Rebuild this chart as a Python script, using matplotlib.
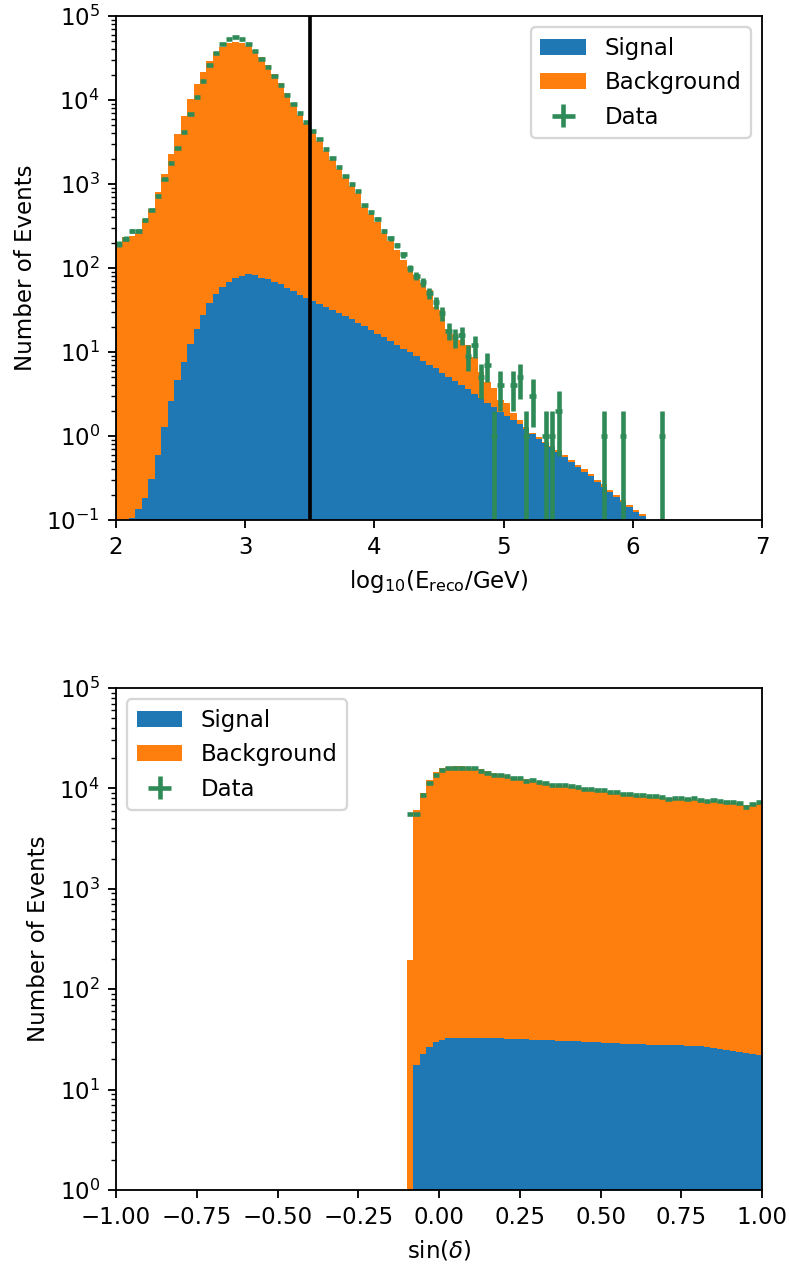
import numpy as np
import matplotlib
matplotlib.use("Agg")
import matplotlib.pyplot as plt

# ---------------- top panel: log10(E_reco/GeV), 100 bins from 2 to 7 ----------------
energy_range = (2.0, 7.0)
n_bins_energy = 100

signal_energy = [
    0.05, 0.05, 0.107, 0.135, 0.184, 0.305, 0.594, 1.29, 2.59, 4.6,
    7.7, 12.3, 19.0, 27.3, 38.0, 49.0, 59.0, 69.0, 76.0, 81.0,
    84.0, 83.0, 77.0, 73.0, 69.0, 64.0, 58.0, 53.0, 48.0, 43.6,
    40.5, 37.5, 34.5, 31.8, 29.2, 26.8, 24.5, 22.3, 20.3, 18.4,
    16.6, 15.0, 13.5, 12.1, 10.8, 10.0, 9.0, 7.9, 7.0, 6.4,
    5.7, 5.1, 4.5, 4.05, 3.6, 3.2, 2.86, 2.5, 2.23, 1.95,
    1.73, 1.54, 1.38, 1.2, 1.05, 0.92, 0.82, 0.73, 0.645, 0.57,
    0.49, 0.43, 0.376, 0.33, 0.283, 0.25, 0.217, 0.19, 0.165, 0.144,
    0.126, 0.112, 0.085, 0.07, 0.055, 0.045, 0.035, 0.028, 0.02, 0.015,
    0.012, 0.009, 0.007, 0.005, 0.004, 0.003, 0.002, 0.002, 0.001, 0.001,
]

background_energy = [
    180, 235, 240, 260, 380, 500, 799, 1319, 2297, 3895,
    6492, 10188, 15481, 21773, 28762, 37451, 42741, 47431, 49424, 47419,
    44416, 39417, 32423, 26227, 20431, 15836, 12142, 9247, 6642, 5236,
    4040, 3183, 2465, 1898, 1491, 1163, 922, 753, 517, 421,
    333, 244, 196, 152, 115, 92, 73, 58, 48, 27.6,
    25.9, 13.9, 11.9, 9.85, 8.5, 5.6, 2.94, 1.9, 1.53, 0.73,
    0.72, 0.32, 0.17, 0.09, 0.05, 0.06, 0.04, 0.04, 0.035, 0.03,
    0.03, 0.025, 0.024, 0.02, 0.017, 0.015, 0.013, 0.01, 0.01, 0.008,
    0.007, 0.006, 0.005, 0.004, 0.003, 0.003, 0.002, 0.002, 0.001, 0.001,
    0.001, 0.001, 0.0, 0.0, 0.0, 0.0, 0.0, 0.0, 0.0, 0.0,
]

data_energy = [
    193, 223, 278, 278, 372, 495, 726, 1150, 1780, 2700,
    4200, 6900, 10870, 17000, 25800, 36000, 47000, 53500, 55500, 53500,
    46000, 38000, 30700, 24800, 19400, 15000, 11500, 8900, 7060, 5520,
    4280, 3400, 2590, 2020, 1610, 1260, 990, 826, 562, 460,
    386, 278, 225, 186, 145, 100, 81, 68, 50, 39,
    29, 18, 15, 16, 9, 12, 5, 7, 1, 4,
    0, 4, 5, 1, 3, 0, 1, 1, 2, 0,
    0, 0, 0, 0, 0, 1, 0, 0, 1, 0,
    0, 0, 0, 0, 1, 0, 0, 0, 0, 0,
    0, 0, 0, 0, 0, 0, 0, 0, 0, 0,
]

energy_cut = 3.5

# ---------------- bottom panel: sin(delta), 100 bins from -1 to 1 ----------------
sindec_range = (-1.0, 1.0)
n_bins_sindec = 100

signal_sindec = [0.0] * 46 + [
    17.6, 22.6, 26.4, 29.6, 31.2, 32.4, 32.8, 33.0, 33.0, 32.9,
    32.8, 32.6, 32.5, 32.3, 32.2, 32.0, 31.9, 31.7, 31.5, 31.3,
    31.2, 31.0, 30.8, 30.6, 30.4, 30.2, 30.0, 29.7, 29.5, 29.3,
    29.1, 28.9, 28.7, 28.5, 28.3, 28.2, 28.0, 27.9, 27.8, 27.7,
    27.6, 27.5, 27.4, 27.3, 27.1, 26.5, 26.0, 25.3, 24.7, 24.2,
    23.6, 23.2, 22.7, 22.3,
]

background_sindec = [0.0] * 45 + [
    195,
    6072, 8917, 12074, 14470, 15819, 16368, 16567, 16567, 16367, 15967,
    15467, 14867, 14267, 13868, 13468, 13068, 12668, 12268, 11969, 11669,
    11369, 11069, 10869, 10669, 10470, 10270, 10020, 9820, 9620, 9421,
    9221, 9071, 8871, 8722, 8572, 8422, 8322, 8222, 8122, 8022,
    7922, 7872, 7823, 7773, 7673, 7574, 7524, 7425, 7325, 7226,
    7076, 6877, 6877, 6978,
]

data_sindec = [0] * 45 + [
    5560,
    5560, 8600, 11400, 13500, 15300, 15800, 15800, 15800, 16000, 15800,
    15000, 14400, 13700, 13500, 13150, 12800, 12600, 11850, 12000, 11600,
    11400, 10900, 10900, 10750, 10570, 10330, 9940, 9940, 9640, 9640,
    9140, 9140, 8870, 8870, 8600, 8500, 8420, 8340, 8250, 7840,
    7950, 8100, 7840, 7950, 7720, 7550, 7720, 7490, 7400, 7300,
    7100, 6580, 6950, 7300,
]

labels = ["Signal", "Background"]
colors = ["C0", "C1"]
data_color = "seagreen"


def draw_panel(ax, edges, sig, bkg, data, loc):
    centers = 0.5 * (edges[1:] + edges[:-1])
    _, _, patches = ax.hist([centers, centers], bins=edges, weights=[sig, bkg],
                            stacked=True, histtype="stepfilled", color=colors,
                            label=labels, log=True)
    d = np.asarray(data, dtype=float)
    m = d > 0
    half = 0.5 * np.diff(edges)
    eb = ax.errorbar(centers[m], d[m], xerr=half[m], yerr=np.sqrt(d[m]),
                     fmt="none", ecolor=data_color, elinewidth=2.0, label="Data")
    handles = [patches[0][0], patches[1][0], eb]
    ax.legend(handles, labels + ["Data"], loc=loc)


dpi = 165
fig = plt.figure(figsize=(789 / dpi, 1266 / dpi), dpi=dpi)
ax1 = fig.add_axes([116 / 789, 1 - 520 / 1266, 646 / 789, 504 / 1266])
ax2 = fig.add_axes([116 / 789, 1 - 1190 / 1266, 646 / 789, 502 / 1266])

e_edges = np.linspace(energy_range[0], energy_range[1], n_bins_energy + 1)
draw_panel(ax1, e_edges, signal_energy, background_energy, data_energy, "upper right")
ax1.axvline(energy_cut, color="k", lw=1.6)
ax1.set_xlim(*energy_range)
ax1.set_ylim(1e-1, 1e5)
ax1.set_xlabel(r"log$_{10}$(E$_{\rm reco}$/GeV)")
ax1.set_ylabel("Number of Events")

s_edges = np.linspace(sindec_range[0], sindec_range[1], n_bins_sindec + 1)
draw_panel(ax2, s_edges, signal_sindec, background_sindec, data_sindec, "upper left")
ax2.set_xlim(*sindec_range)
ax2.set_ylim(1e0, 1e5)
ax2.set_xlabel(r"sin($\delta$)")
ax2.set_ylabel("Number of Events")

fig.savefig("out.png", dpi=dpi)
